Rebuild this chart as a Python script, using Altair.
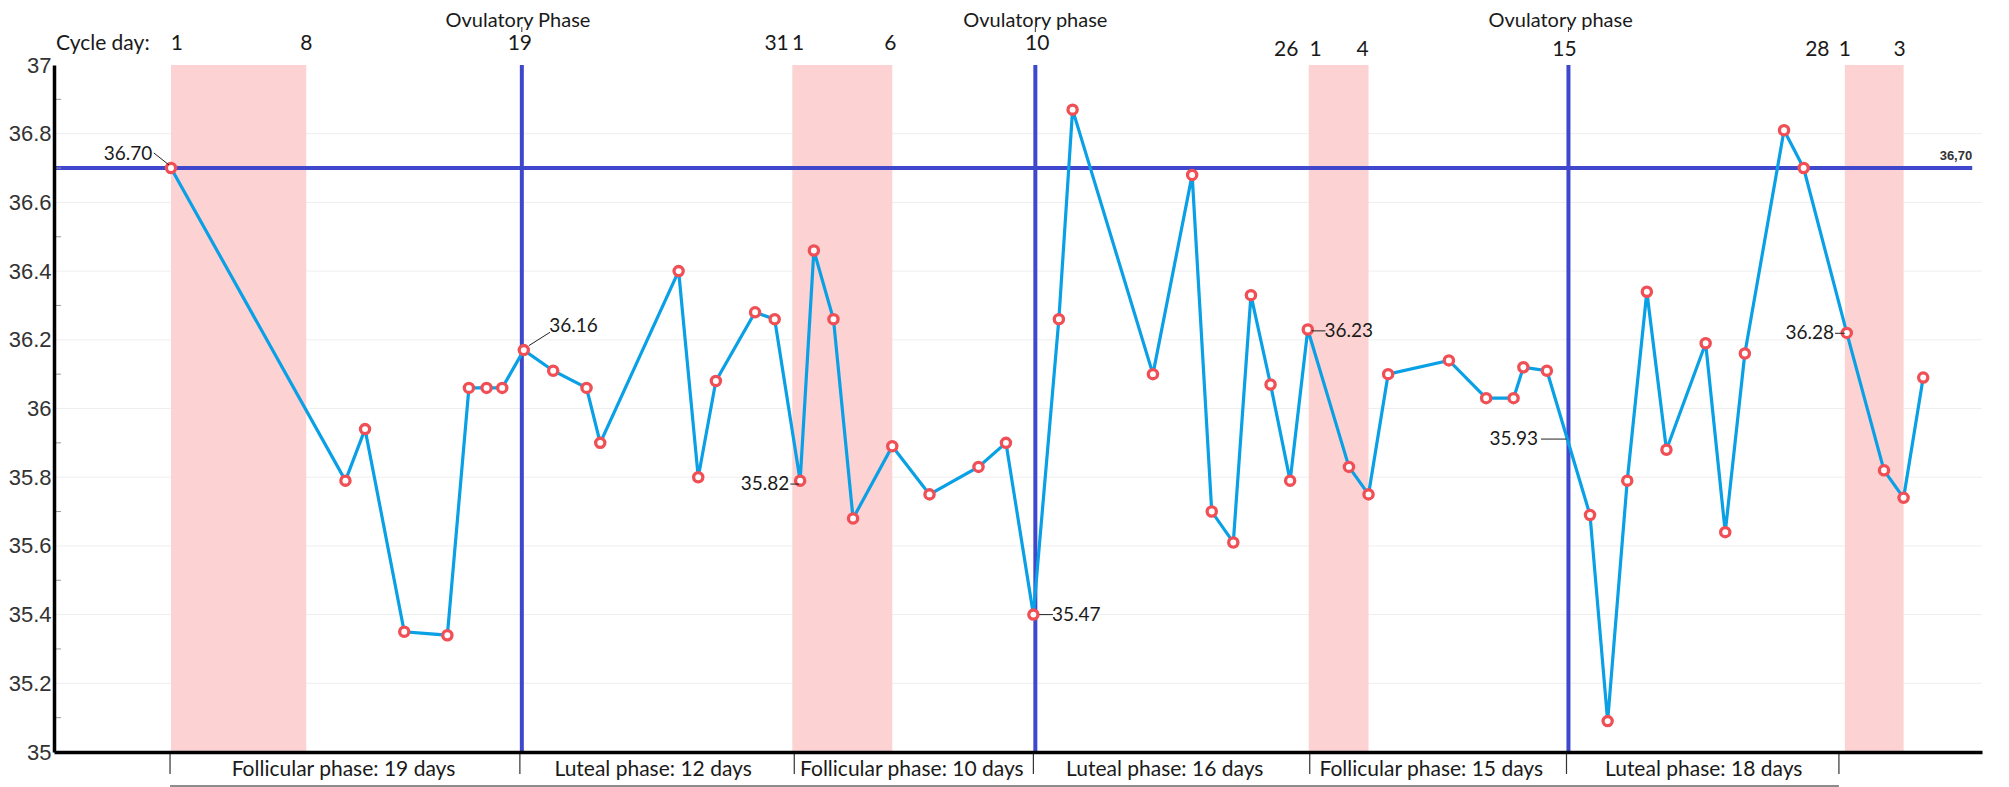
import altair as alt
import pandas as pd

# ---------------- data ----------------
day = [0.0, 8.9, 9.9, 11.9, 14.1, 15.2, 16.1, 16.9, 18.0, 19.5, 21.2, 21.9,
       25.9, 26.9, 27.8, 29.8, 30.8, 32.1, 32.8, 33.8, 34.8, 36.8, 38.7, 41.2,
       42.6, 44.0, 45.3, 46.0, 50.1, 52.1, 53.1, 54.2, 55.1, 56.1, 57.1, 58.0,
       60.1, 61.1, 62.1, 65.2, 67.1, 68.5, 69.0, 70.2, 72.4, 73.3, 74.3, 75.3,
       76.3, 78.3, 79.3, 80.3, 82.3, 83.3, 85.5, 87.4, 88.4, 89.4]
temp = [36.70, 35.79, 35.94, 35.35, 35.34, 36.06, 36.06, 36.06, 36.17, 36.11,
        36.06, 35.90, 36.40, 35.80, 36.08, 36.28, 36.26, 35.79, 36.46, 36.26,
        35.68, 35.89, 35.75, 35.83, 35.90, 35.40, 36.26, 36.87, 36.10, 36.68,
        35.70, 35.61, 36.33, 36.07, 35.79, 36.23, 35.83, 35.75, 36.10, 36.14,
        36.03, 36.03, 36.12, 36.11, 35.69, 35.09, 35.79, 36.34, 35.88, 36.19,
        35.64, 36.16, 36.81, 36.70, 36.22, 35.82, 35.74, 36.09]

# menstruation bands (start / end day)
band_start = [0.0, 31.7, 58.05, 85.4]
band_end = [6.9, 36.8, 61.1, 88.4]

# ovulation vertical lines
ovu_day = [17.9, 44.1, 71.3]
ovu_label = ["Ovulatory Phase", "Ovulatory phase", "Ovulatory phase"]
ovu_label_day = [17.7, 44.1, 70.9]

# reference temperature
ref_temp = 36.70
ref_start = -5.97
ref_end = 91.9

# cycle-day numbers on top
cd_label = ["1", "8", "19", "31", "1", "6", "10", "26", "1", "4", "15", "28", "1", "3"]
cd_day = [0.3, 6.9, 17.8, 30.9, 32.0, 36.7, 44.2, 56.9, 58.4, 60.8, 71.1, 84.0, 85.4, 88.2]
cd_row = [0, 0, 0, 0, 0, 0, 0, 1, 1, 1, 1, 1, 1, 1]

# phase labels at the bottom
ph_label = ["Follicular phase: 19 days", "Luteal phase: 12 days",
            "Follicular phase: 10 days", "Luteal phase: 16 days",
            "Follicular phase: 15 days", "Luteal phase: 18 days"]
ph_day = [8.8, 24.6, 37.8, 50.7, 64.3, 78.2]
ph_sep = [-0.05, 17.8, 31.8, 44.0, 58.1, 71.2, 85.1]

# value call-outs
vl_text = ["36.70", "36.16", "35.82", "35.47", "36.23", "35.93", "36.28"]
vl_day = [-0.95, 19.3, 31.55, 44.95, 58.85, 69.75, 84.85]
vl_temp = [36.742, 36.239, 35.78, 35.40, 36.226, 35.910, 36.219]
vl_align = ["right", "left", "right", "left", "left", "right", "right"]
ld_x1 = [-0.88, 18.26, 31.6, 44.3, 58.2, 69.9, 84.9]
ld_x2 = [-0.1, 19.34, 32.05, 45.0, 58.9, 71.2, 85.4]
ld_y1 = [36.744, 36.183, 35.78, 35.40, 36.226, 35.911, 36.219]
ld_y2 = [36.709, 36.222, 35.78, 35.40, 36.226, 35.911, 36.219]

y_ticks = [35, 35.2, 35.4, 35.6, 35.8, 36, 36.2, 36.4, 36.6, 36.8, 37]
y_minor = [35.1, 35.3, 35.5, 35.7, 35.9, 36.1, 36.3, 36.5, 36.7, 36.9]
grid_vals = [35.2, 35.4, 35.6, 35.8, 36.0, 36.2, 36.4, 36.6, 36.8]

# ---------------- chart ----------------
W, H = 1928, 687
XD = [-5.97, 92.4]
YD = [35, 37]
FONT = "Lato"
TXT = "#1a1a1a"

xs = alt.Scale(domain=XD, nice=False, zero=False)
ys = alt.Scale(domain=YD, nice=False, zero=False)

df = pd.DataFrame({"day": day, "temp": temp})
bands = pd.DataFrame({"s": band_start, "e": band_end})
ovu = pd.DataFrame({"d": ovu_day, "lab": ovu_label, "ld": ovu_label_day})
cd = pd.DataFrame({"lab": cd_label, "d": cd_day, "row": cd_row})
ph = pd.DataFrame({"lab": ph_label, "d": ph_day})
sep = pd.DataFrame({"d": ph_sep})
vl = pd.DataFrame({"t": vl_text, "d": vl_day, "v": vl_temp, "a": vl_align})
ld = pd.DataFrame({"x1": ld_x1, "x2": ld_x2, "y1": ld_y1, "y2": ld_y2})
grid = pd.DataFrame({"g": grid_vals})
minor = pd.DataFrame({"m": y_minor})
ref = pd.DataFrame({"s": [ref_start], "e": [ref_end], "v": [ref_temp],
                    "lab": ["36,70"]})

xaxis = alt.Axis(labels=False, ticks=False, grid=False, title=None,
                 domainColor="black", domainWidth=3.5, zindex=1)
yaxis = alt.Axis(values=y_ticks, format="~g", labelFont="Liberation Sans",
                 labelFontSize=22, labelColor="#333", ticks=False, grid=False,
                 title=None, domainColor="black", domainWidth=3.5,
                 labelPadding=3, zindex=1)

grid_l = alt.Chart(grid).mark_rule(color="#eeeeee", strokeWidth=1).encode(
    y=alt.Y("g:Q", scale=ys, axis=yaxis))

band_l = alt.Chart(bands).mark_rect(color="#fcd2d2").encode(
    x=alt.X("s:Q", scale=xs, axis=xaxis), x2="e:Q",
    y=alt.value(0), y2=alt.value(H))

ref_l = alt.Chart(ref).mark_rule(color="#3f48cc", strokeWidth=4).encode(
    x=alt.X("s:Q", scale=xs), x2="e:Q", y=alt.Y("v:Q", scale=ys))
ref_t = alt.Chart(ref).mark_text(align="right", baseline="bottom", dy=-5,
                                 font="Liberation Sans", fontSize=13,
                                 fontWeight="bold", color="#333").encode(
    x=alt.X("e:Q", scale=xs), y=alt.Y("v:Q", scale=ys), text="lab:N")

ovu_l = alt.Chart(ovu).mark_rule(color="#3f48cc", strokeWidth=4).encode(
    x=alt.X("d:Q", scale=xs), y=alt.value(0), y2=alt.value(H))

minor_l = alt.Chart(minor).mark_rule(color="#999", strokeWidth=1).encode(
    y=alt.Y("m:Q", scale=ys), x=alt.value(0), x2=alt.value(7))

line_l = alt.Chart(df).mark_line(color="#0aa0e6", strokeWidth=3.2).encode(
    x=alt.X("day:Q", scale=xs), y=alt.Y("temp:Q", scale=ys))
pt_l = alt.Chart(df).mark_point(shape="circle", fill="white", fillOpacity=1,
                                stroke="#ef4f55", strokeWidth=3.3, size=85,
                                opacity=1).encode(
    x=alt.X("day:Q", scale=xs), y=alt.Y("temp:Q", scale=ys))

ld_l = alt.Chart(ld).mark_rule(color="#222", strokeWidth=1).encode(
    x=alt.X("x1:Q", scale=xs), x2="x2:Q",
    y=alt.Y("y1:Q", scale=ys), y2="y2:Q")

vl_r = alt.Chart(vl[vl.a == "right"]).mark_text(
    align="right", baseline="middle", font=FONT, fontSize=19, color=TXT).encode(
    x=alt.X("d:Q", scale=xs), y=alt.Y("v:Q", scale=ys), text="t:N")
vl_lft = alt.Chart(vl[vl.a == "left"]).mark_text(
    align="left", baseline="middle", font=FONT, fontSize=19, color=TXT).encode(
    x=alt.X("d:Q", scale=xs), y=alt.Y("v:Q", scale=ys), text="t:N")

cd0 = alt.Chart(cd[cd.row == 0]).mark_text(
    align="center", baseline="middle", font=FONT, fontSize=21, color=TXT).encode(
    x=alt.X("d:Q", scale=xs), y=alt.value(-21), text="lab:N")
cd1 = alt.Chart(cd[cd.row == 1]).mark_text(
    align="center", baseline="middle", font=FONT, fontSize=21, color=TXT).encode(
    x=alt.X("d:Q", scale=xs), y=alt.value(-15), text="lab:N")
cdt = alt.Chart(pd.DataFrame({"lab": ["Cycle day:"], "d": [XD[0] + 0.1]})).mark_text(
    align="left", baseline="middle", font=FONT, fontSize=21, color=TXT).encode(
    x=alt.X("d:Q", scale=xs), y=alt.value(-21), text="lab:N")

ovu_t = alt.Chart(ovu).mark_text(
    align="center", baseline="middle", font=FONT, fontSize=20, color=TXT).encode(
    x=alt.X("ld:Q", scale=xs), y=alt.value(-44), text="lab:N")
ovu_p = alt.Chart(ovu).mark_rule(color="#333", strokeWidth=1).encode(
    x=alt.X("d:Q", scale=xs), y=alt.value(-38), y2=alt.value(-33))

ph_t = alt.Chart(ph).mark_text(
    align="center", baseline="middle", font=FONT, fontSize=21, color=TXT).encode(
    x=alt.X("d:Q", scale=xs), y=alt.value(H + 18), text="lab:N")
sep_l = alt.Chart(sep).mark_rule(color="#333", strokeWidth=1.2).encode(
    x=alt.X("d:Q", scale=xs), y=alt.value(H), y2=alt.value(H + 22))
under = alt.Chart(pd.DataFrame({"s": [ph_sep[0]], "e": [ph_sep[-1]]})).mark_rule(
    color="#666", strokeWidth=1.5).encode(
    x=alt.X("s:Q", scale=xs), x2="e:Q", y=alt.value(H + 34))

chart = alt.layer(
    grid_l, band_l, ref_l, ovu_l, minor_l, line_l, pt_l, ld_l, vl_r, vl_lft,
    ref_t, cd0, cd1, cdt, ovu_t, ovu_p, ph_t, sep_l, under
).properties(
    width=W, height=H,
    autosize=alt.AutoSizeParams(type="none"),
    padding={"left": 46, "top": 57, "right": 16, "bottom": 35},
    background="white",
).configure_view(stroke=None)

chart.save("out.html", embed_options={"renderer": "svg", "actions": False})
